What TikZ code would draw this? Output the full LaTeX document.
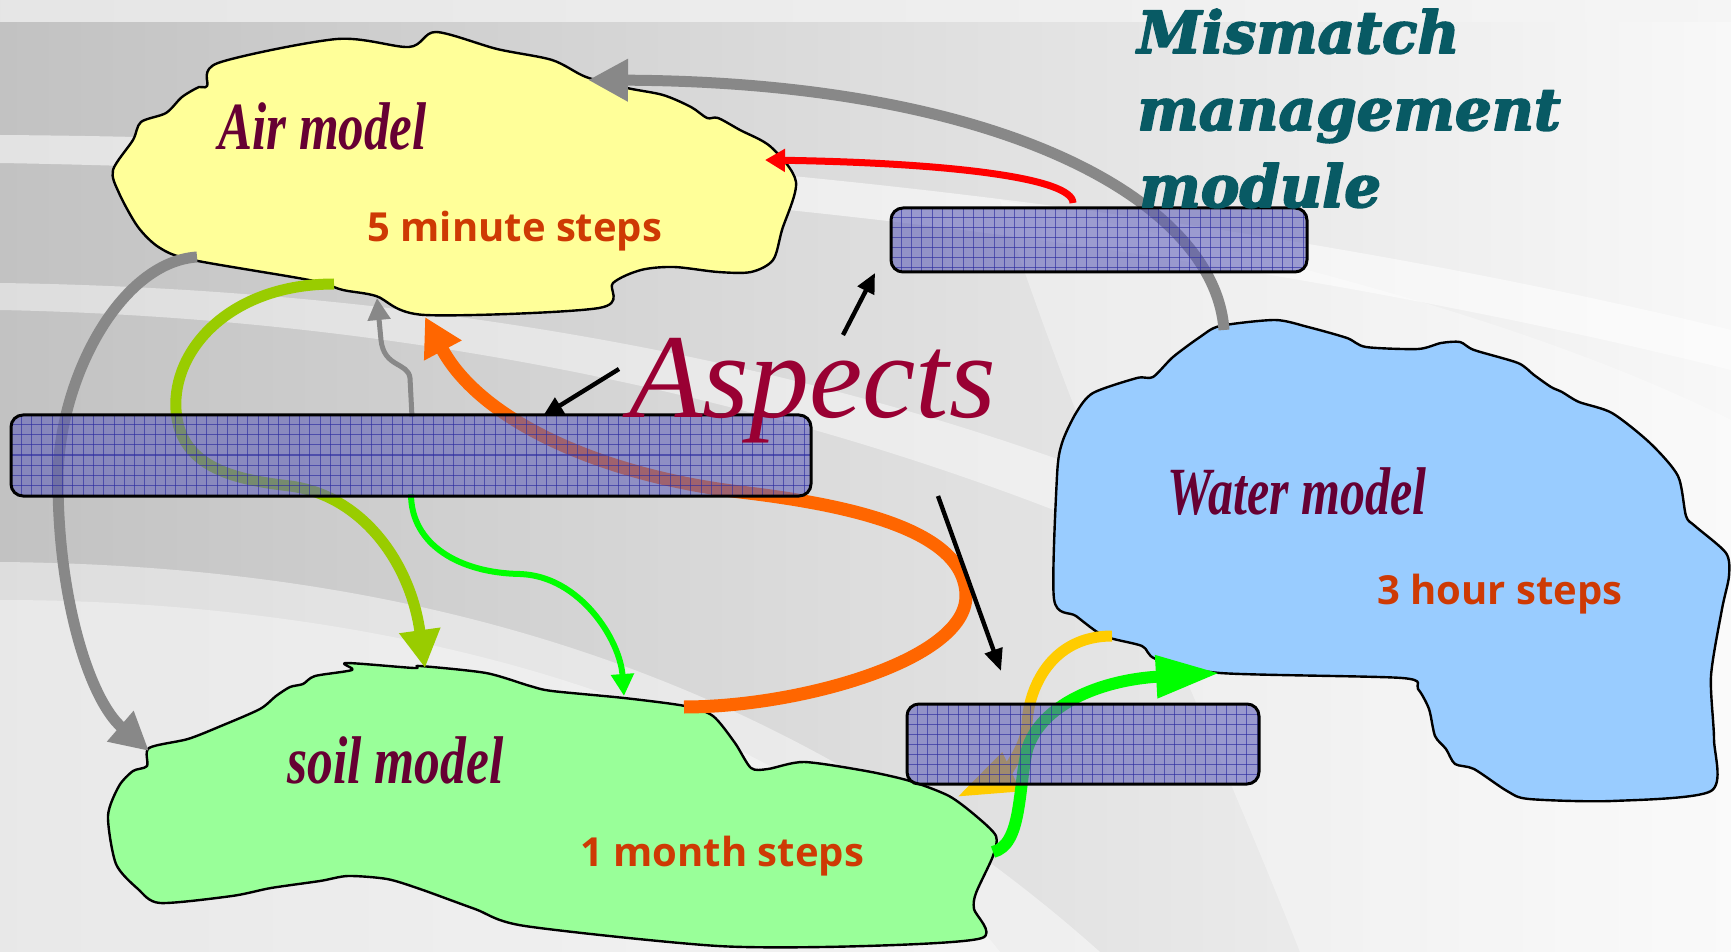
\documentclass[tikz,border=0pt]{standalone}
\usepackage{fontspec}
\setmainfont{Liberation Serif}
\newfontfamily\stepsfont{Open Sans}
\newfontfamily\headfont{DejaVu Serif}[BoldItalicFeatures={FakeBold=3}]
\newfontfamily\handfont{Liberation Serif}
\usetikzlibrary{arrows.meta}

\definecolor{airfill}{RGB}{255,255,153}
\definecolor{soilfill}{RGB}{153,255,153}
\definecolor{waterfill}{RGB}{153,204,255}
\definecolor{linkgray}{RGB}{136,136,136}
\definecolor{stepred}{RGB}{206,58,4}
\definecolor{modelwine}{RGB}{102,0,51}
\definecolor{aspectred}{RGB}{153,0,51}
\definecolor{headteal}{RGB}{8,90,100}
\definecolor{barfill}{RGB}{96,96,184}
\definecolor{bargrid}{RGB}{45,45,160}
\definecolor{limegreen}{RGB}{153,204,0}
\definecolor{brightgreen}{RGB}{0,255,0}
\definecolor{goldflow}{RGB}{255,204,0}
\definecolor{orangeflow}{RGB}{255,102,0}
\definecolor{bgdark}{RGB}{194,194,194}
\definecolor{bglight}{RGB}{248,248,248}

\begin{document}
\begin{tikzpicture}[x=0.5pt,y=-0.5pt,line join=round,
  cloudline/.style={draw=black,line width=1.2pt},
  flow/.style={line cap=butt},
  gridbar/.style={draw=black,line width=1.5pt,rounded corners=6pt,
    fill=barfill,fill opacity=.6,inner sep=0pt,
    path picture={
      \foreach \k in {1,...,80}{
        \draw[bargrid,line width=.5pt,draw opacity=.65]
          ([xshift=\k*5.15pt]path picture bounding box.north west) --
          ([xshift=\k*5.15pt]path picture bounding box.south west);}
      \foreach \k in {1,...,9}{
        \draw[bargrid,line width=.5pt,draw opacity=.65]
          ([yshift=-\k*5pt]path picture bounding box.north west) --
          ([yshift=-\k*5pt]path picture bounding box.north east);}
    }},
  steplabel/.style={anchor=base west,inner sep=0pt,text=stepred,
    font=\stepsfont\bfseries\fontsize{20}{24}\selectfont},
  modellabel/.style={anchor=base west,inner sep=0pt,text=modelwine,
    font=\handfont\bfseries\itshape\fontsize{25}{28}\selectfont},
  headlabel/.style={anchor=base west,inner sep=0pt,text=headteal,
    font=\headfont\bfseries\itshape\fontsize{29}{32}\selectfont}]

\useasboundingbox (0,0) rectangle (1731,952);

% ---------- backdrop ----------
\shade[left color=bgdark,right color=bglight] (0,0) rectangle (1731,952);
\shade[left color=black!10,right color=black!4] (0,0) rectangle (1731,22);
% sweeping light bands
\fill[white,opacity=.55] (0,135) .. controls (700,140) and (1300,225) .. (1731,330)
  -- (1731,370) .. controls (1300,262) and (700,175) .. (0,163) -- cycle;
\fill[white,opacity=.45] (0,283) .. controls (500,290) and (950,390) .. (1300,560)
  -- (1300,620) .. controls (950,440) and (500,320) .. (0,310) -- cycle;
\fill[white,opacity=.45] (0,562) .. controls (350,565) and (750,640) .. (1100,952)
  -- (0,952) -- cycle;
\fill[white,opacity=.35] (0,600) .. controls (380,600) and (800,700) .. (1000,952)
  -- (0,952) -- cycle;
\fill[white,opacity=.35] (1000,200) .. controls (1300,260) and (1550,330) .. (1731,420)
  -- (1731,952) -- (1300,952) .. controls (1200,700) and (1100,500) .. (1000,200) -- cycle;

% ---------- model clouds ----------
\draw[cloudline,fill=airfill] plot[smooth cycle,tension=0.5] coordinates {
  (218,63) (337,39) (409,47) (436,32) (497,49) (552,60) (586,77) (627,88)
  (663,95) (691,107) (707,118) (718,118) (740,130) (771,147) (796,182)
  (782,230) (773,260) (751,272) (718,272) (674,267) (641,270) (613,283)
  (599,308) (425,315) (376,296) (343,290) (309,280) (193,260) (160,248)
  (138,227) (119,193) (113,170) (133,140) (141,122) (166,113) (182,97)
  (199,87) (207,86)};

\draw[cloudline,fill=soilfill] plot[smooth cycle,tension=0.45] coordinates {
  (149,748) (188,739) (221,726) (260,709) (276,696) (290,687) (303,684)
  (315,676) (352,670) (346,663) (414,668) (420,666) (486,673) (530,686)
  (552,691) (624,698) (685,706) (713,716) (735,743) (751,768) (768,769)
  (804,762) (866,771) (910,781) (949,796) (976,816) (996,836) (993,856)
  (976,893) (974,909) (982,938) (866,946) (718,946) (525,926) (475,909)
  (420,889) (387,879) (348,876) (320,881) (271,888) (232,896) (160,903)
  (138,889) (116,864) (108,816) (119,786) (133,771) (147,766)};

\draw[cloudline,fill=waterfill] plot[smooth cycle,tension=0.45] coordinates {
  (1220,326) (1275,320) (1308,327) (1347,338) (1366,347) (1418,349)
  (1441,343) (1460,342) (1474,350) (1518,363) (1534,375) (1551,387)
  (1562,392) (1579,402) (1612,413) (1650,443) (1678,476) (1686,516)
  (1695,526) (1726,553) (1729,576) (1722,609) (1711,676) (1714,739)
  (1711,791) (1612,801) (1529,799) (1507,791) (1474,769) (1455,764)
  (1446,749) (1435,736) (1429,709) (1418,689) (1402,678) (1220,673)
  (1156,659) (1142,646) (1104,636) (1076,616) (1054,599) (1057,476)
  (1062,443) (1076,413) (1093,393) (1137,378) (1153,377) (1173,357)
  (1200,337)};

% ---------- connector end points ----------
\coordinate (waterTop) at (1224,330);
\coordinate (airEast) at (588,80);
\coordinate (syncTopOut) at (1073,203);
\coordinate (airRight) at (765,160);
\coordinate (airFootL) at (197,257);
\coordinate (soilNW) at (149,751);
\coordinate (airFootM) at (334,284);
\coordinate (soilTop) at (425,668);
\coordinate (soilNE) at (684,707);
\coordinate (airBottom) at (425,317);
\coordinate (bigBarTop) at (412,417);
\coordinate (airNotch) at (377,298);
\coordinate (bigBarBottom) at (411,494);
\coordinate (soilTopR) at (624,696);
\coordinate (waterWest) at (1112,636);
\coordinate (lowBarSW) at (957,797);
\coordinate (soilEast) at (993,852);
\coordinate (waterInlet) at (1220,673);
\coordinate (tagA) at (843,335);
\coordinate (tagAend) at (875,273);
\coordinate (tagB) at (619,369);
\coordinate (tagBend) at (543,416);
\coordinate (tagC) at (938,496);
\coordinate (tagCend) at (1001,671);

% ---------- exchanges between the models ----------
\draw[flow,linkgray,line width=5.5pt,-{Triangle[width=20pt,length=20pt]}]
  (waterTop) .. controls (1215,200) and (1000,82) .. (airEast);
\draw[flow,linkgray,line width=5.5pt,-{Triangle[width=19pt,length=19pt]}]
  (airFootL) .. controls (120,262) and (58,380) .. (58,480)
  .. controls (58,600) and (90,700) .. (soilNW);
\draw[flow,red,line width=3.5pt,-{Triangle[width=11pt,length=10pt]}]
  (syncTopOut) .. controls (1073,178) and (950,163) .. (airRight);
\draw[flow,limegreen,line width=5.5pt,-{Triangle[width=19.5pt,length=19pt]}]
  (airFootM) .. controls (230,284) and (172,350) .. (176,410)
  .. controls (180,470) and (240,480) .. (290,486)
  .. controls (360,495) and (410,560) .. (soilTop);
\draw[flow,orangeflow,line width=6.5pt,-{Triangle[width=20pt,length=19pt]}]
  (soilNE) .. controls (800,707) and (966,660) .. (966,596)
  .. controls (966,530) and (850,505) .. (740,492)
  .. controls (600,475) and (480,420) .. (airBottom);
\draw[flow,linkgray,line width=2.5pt,-{Triangle[width=11pt,length=11pt]}]
  (bigBarTop) -- (410,378) .. controls (408,362) and (384,368) .. (381,340) -- (airNotch);
\draw[flow,brightgreen,line width=3pt,-{Triangle[width=11pt,length=11pt]}]
  (bigBarBottom) .. controls (411,545) and (460,573) .. (520,574)
  .. controls (580,576) and (620,640) .. (soilTopR);
\draw[flow,goldflow,line width=5.5pt,-{Triangle[width=20pt,length=30pt]}]
  (waterWest) .. controls (1050,636) and (1028,690) .. (1027,725)
  .. controls (1026,750) and (1000,777) .. (lowBarSW);
\draw[flow,brightgreen,line width=6pt,-{Triangle[width=20pt,length=32pt]}]
  (soilEast) .. controls (1022,845) and (1018,790) .. (1027,750)
  .. controls (1040,705) and (1100,680) .. (waterInlet);

% ---------- aspect pointers ----------
\draw[line width=2.2pt,-{Triangle[width=9pt,length=10pt]}] (tagA) -- (tagAend);
\draw[line width=2.2pt,-{Triangle[width=9pt,length=10pt]}] (tagB) -- (tagBend);
\draw[line width=2.2pt,-{Triangle[width=9pt,length=11pt]}] (tagC) -- (tagCend);

% ---------- coupling bars ----------
\node[gridbar,minimum width=400pt,minimum height=40.5pt] (bigBar) at (411,455.5) {};
\node[gridbar,minimum width=208pt,minimum height=32pt] (topBar) at (1099,240) {};
\node[gridbar,minimum width=176pt,minimum height=40pt] (lowBar) at (1083,744) {};

% ---------- labels ----------
\node[modellabel] (airName) at (218,150) {\scalebox{1.02}[1.35]{Air model}};
\node[modellabel] (soilName) at (287,783) {\scalebox{1.03}[1.35]{soil model}};
\node[modellabel] (waterName) at (1167,514) {\scalebox{1.0}[1.35]{Water model}};
\node[steplabel] (airStep) at (367,242) {5 minute steps};
\node[steplabel] (soilStep) at (580,866) {1 month steps};
\node[steplabel] (waterStep) at (1377,604) {3 hour steps};
\node[anchor=base west,inner sep=0pt,text=aspectred,
  font=\handfont\itshape\fontsize{60}{60}\selectfont] (aspects) at (629,417) {Aspects};
\node[headlabel] (headA) at (1137,53) {Mismatch};
\node[headlabel] (headB) at (1137,130) {management};
\node[headlabel] (headC) at (1139,207) {module};
\end{tikzpicture}
\end{document}
